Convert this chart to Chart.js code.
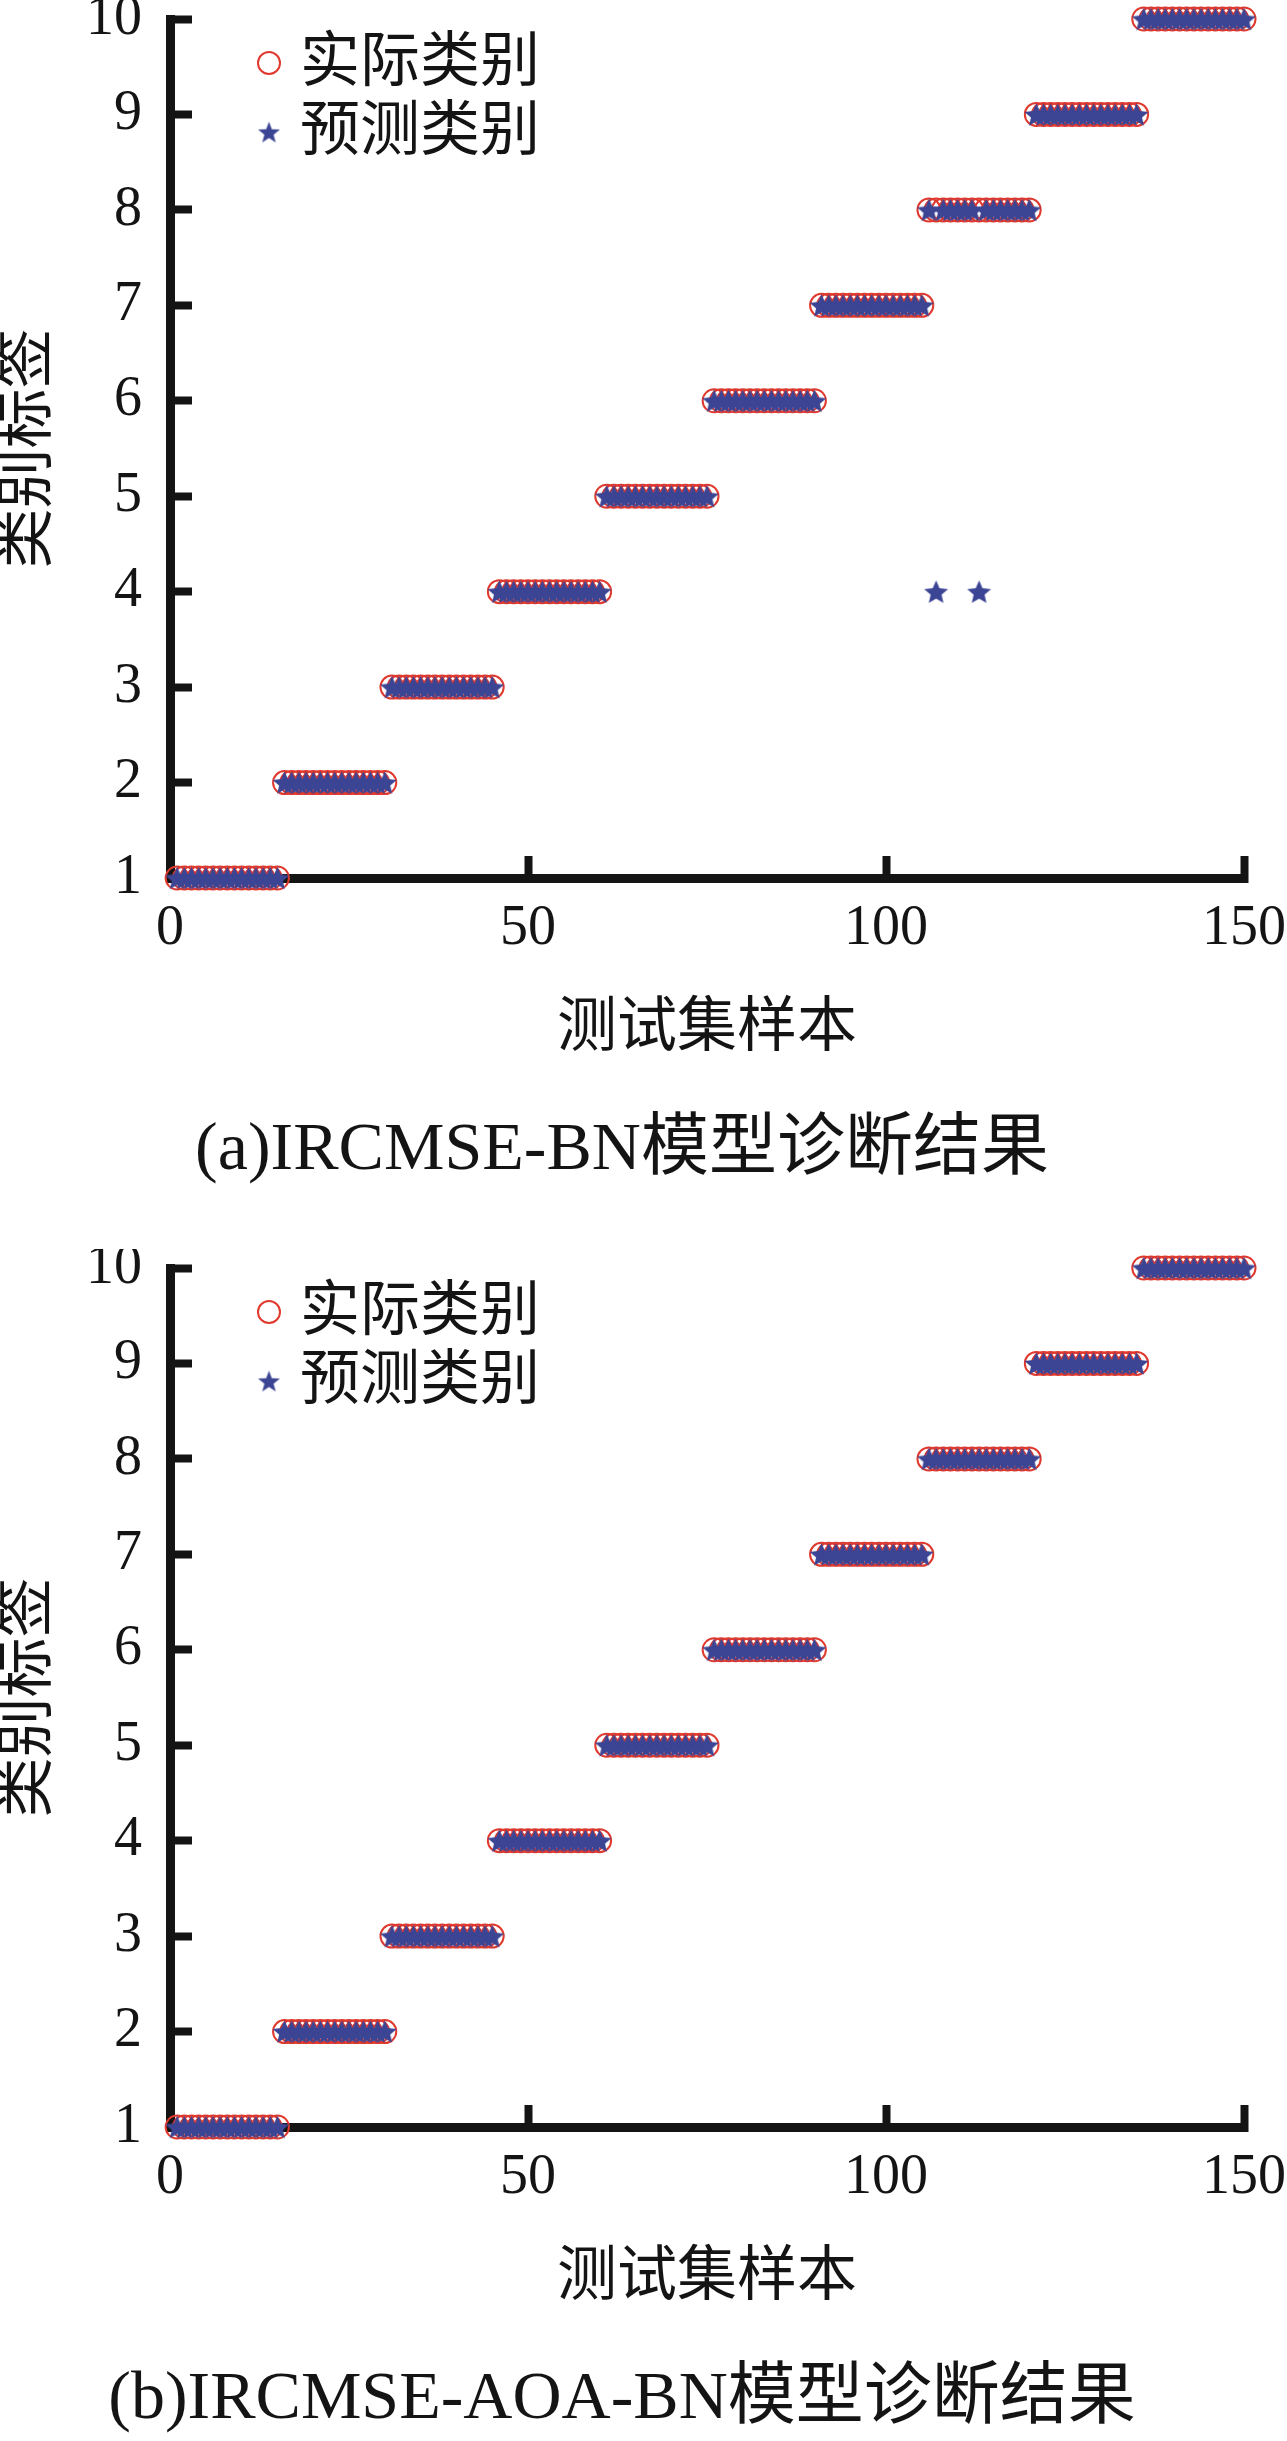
<!DOCTYPE html>
<html>
<head>
<meta charset="utf-8">
<script src="https://cdn.jsdelivr.net/npm/chart.js@4.4.0/dist/chart.umd.min.js"></script>
<style>
  html, body { margin: 0; padding: 0; background: #fff; overflow: hidden; }
  .box { width: 1287px; height: 1249px; }
  canvas { display: block; }
</style>
</head>
<body>
<div class="box"><canvas id="chartA" width="1287" height="1249"></canvas></div>
<div class="box"><canvas id="chartB" width="1287" height="1249"></canvas></div>
<script>
// tick labels
const xTicks = [0, 50, 100, 150];
const yTicks = [1, 2, 3, 4, 5, 6, 7, 8, 9, 10];

const seriesNames = ['实际类别', '预测类别'];
const xTitle = '测试集样本';
const yTitle = '类别标签';
const captions = ['(a)IRCMSE-BN模型诊断结果', '(b)IRCMSE-AOA-BN模型诊断结果'];

// class of each test sample (sample 1..150)
const actual = [
  1, 1, 1, 1, 1, 1, 1, 1, 1, 1, 1, 1, 1, 1, 1,
  2, 2, 2, 2, 2, 2, 2, 2, 2, 2, 2, 2, 2, 2, 2,
  3, 3, 3, 3, 3, 3, 3, 3, 3, 3, 3, 3, 3, 3, 3,
  4, 4, 4, 4, 4, 4, 4, 4, 4, 4, 4, 4, 4, 4, 4,
  5, 5, 5, 5, 5, 5, 5, 5, 5, 5, 5, 5, 5, 5, 5,
  6, 6, 6, 6, 6, 6, 6, 6, 6, 6, 6, 6, 6, 6, 6,
  7, 7, 7, 7, 7, 7, 7, 7, 7, 7, 7, 7, 7, 7, 7,
  8, 8, 8, 8, 8, 8, 8, 8, 8, 8, 8, 8, 8, 8, 8,
  9, 9, 9, 9, 9, 9, 9, 9, 9, 9, 9, 9, 9, 9, 9,
  10, 10, 10, 10, 10, 10, 10, 10, 10, 10, 10, 10, 10, 10, 10
];

// (a) IRCMSE-BN: samples 107 and 113 misclassified as 4
const predictedA = [
  1, 1, 1, 1, 1, 1, 1, 1, 1, 1, 1, 1, 1, 1, 1,
  2, 2, 2, 2, 2, 2, 2, 2, 2, 2, 2, 2, 2, 2, 2,
  3, 3, 3, 3, 3, 3, 3, 3, 3, 3, 3, 3, 3, 3, 3,
  4, 4, 4, 4, 4, 4, 4, 4, 4, 4, 4, 4, 4, 4, 4,
  5, 5, 5, 5, 5, 5, 5, 5, 5, 5, 5, 5, 5, 5, 5,
  6, 6, 6, 6, 6, 6, 6, 6, 6, 6, 6, 6, 6, 6, 6,
  7, 7, 7, 7, 7, 7, 7, 7, 7, 7, 7, 7, 7, 7, 7,
  8, 4, 8, 8, 8, 8, 8, 4, 8, 8, 8, 8, 8, 8, 8,
  9, 9, 9, 9, 9, 9, 9, 9, 9, 9, 9, 9, 9, 9, 9,
  10, 10, 10, 10, 10, 10, 10, 10, 10, 10, 10, 10, 10, 10, 10
];

// (b) IRCMSE-AOA-BN: all correct
const predictedB = [
  1, 1, 1, 1, 1, 1, 1, 1, 1, 1, 1, 1, 1, 1, 1,
  2, 2, 2, 2, 2, 2, 2, 2, 2, 2, 2, 2, 2, 2, 2,
  3, 3, 3, 3, 3, 3, 3, 3, 3, 3, 3, 3, 3, 3, 3,
  4, 4, 4, 4, 4, 4, 4, 4, 4, 4, 4, 4, 4, 4, 4,
  5, 5, 5, 5, 5, 5, 5, 5, 5, 5, 5, 5, 5, 5, 5,
  6, 6, 6, 6, 6, 6, 6, 6, 6, 6, 6, 6, 6, 6, 6,
  7, 7, 7, 7, 7, 7, 7, 7, 7, 7, 7, 7, 7, 7, 7,
  8, 8, 8, 8, 8, 8, 8, 8, 8, 8, 8, 8, 8, 8, 8,
  9, 9, 9, 9, 9, 9, 9, 9, 9, 9, 9, 9, 9, 9, 9,
  10, 10, 10, 10, 10, 10, 10, 10, 10, 10, 10, 10, 10, 10, 10
];

const FONT = '"Liberation Serif", "Noto Sans CJK SC", serif';
const INK = '#141414';
const RED = '#e0392e';
const BLUE = '#3c4594';

// filled five-point star used as the point style
function makeStar(r, inner) {
  const c = document.createElement('canvas');
  c.width = c.height = Math.ceil(r * 2 + 2);
  const g = c.getContext('2d');
  const cx = c.width / 2, cy = c.height / 2 + r * 0.1;
  g.beginPath();
  for (let k = 0; k < 10; k++) {
    const rad = k % 2 === 0 ? r : r * inner;
    const a = -Math.PI / 2 + k * Math.PI / 5;
    g.lineTo(cx + rad * Math.cos(a), cy + rad * Math.sin(a));
  }
  g.closePath();
  g.fillStyle = BLUE;
  g.fill();
  return c;
}
const starImg = makeStar(12.5, 0.46);
const legendStar = makeStar(11.5, 0.42);

// legend drawn inside the plot, top-left
const insideLegend = {
  id: 'insideLegend',
  afterDatasetsDraw(chart) {
    const { ctx, chartArea } = chart;
    ctx.save();
    ctx.font = '60px ' + FONT;
    ctx.fillStyle = INK;
    ctx.textBaseline = 'middle';
    ctx.textAlign = 'left';
    chart.data.datasets.forEach((ds, i) => {
      const cx = chartArea.left + 99;
      const cy = chartArea.top + 44 + i * 69;
      if (ds.pointStyle === 'circle') {
        ctx.beginPath();
        ctx.arc(cx, cy, 11, 0, Math.PI * 2);
        ctx.lineWidth = ds.borderWidth;
        ctx.strokeStyle = ds.borderColor;
        ctx.stroke();
      } else {
        ctx.drawImage(legendStar, cx - legendStar.width / 2, cy - legendStar.height / 2);
      }
      ctx.fillText(ds.label, chartArea.left + 130, cy + 2);
    });
    ctx.restore();
  }
};

function toPoints(arr) {
  return arr.map((v, i) => ({ x: i + 1, y: v }));
}

function makeChart(id, predicted, caption) {
  const axisCommon = {
    type: 'linear',
    border: { display: true, width: 9, color: INK },
    grid: { drawOnChartArea: false, drawTicks: true, tickLength: -22, tickWidth: 8, tickColor: INK }
  };
  return new Chart(document.getElementById(id), {
    type: 'scatter',
    data: {
      datasets: [
        {
          label: seriesNames[0],
          data: toPoints(actual),
          pointStyle: 'circle',
          pointRadius: 11.5,
          borderWidth: 2,
          borderColor: RED,
          backgroundColor: 'rgba(255,255,255,0)',
          order: 1,
          clip: false
        },
        {
          label: seriesNames[1],
          data: toPoints(predicted),
          pointStyle: starImg,
          pointRadius: 12,
          borderColor: BLUE,
          backgroundColor: BLUE,
          order: 0,
          clip: false
        }
      ]
    },
    options: {
      responsive: false,
      animation: false,
      events: [],
      layout: { padding: { top: 19, right: 43, bottom: 0, left: 0 } },
      plugins: {
        legend: { display: false },
        tooltip: { enabled: false },
        title: {
          display: true,
          position: 'bottom',
          text: caption,
          color: INK,
          font: { family: FONT, size: 68, weight: 'normal', lineHeight: 1.2 },
          padding: { top: 0, bottom: 57.2 }
        }
      },
      scales: {
        x: Object.assign({}, axisCommon, {
          position: 'bottom',
          min: 0,
          max: 150,
          afterBuildTicks: s => { s.ticks = xTicks.map(v => ({ value: v })); },
          afterFit: s => { s.height = 232.2; s.paddingLeft = 0; s.paddingRight = 0; },
          ticks: { color: INK, font: { family: FONT, size: 56 }, padding: 40, maxRotation: 0, autoSkip: false },
          title: {
            display: true, text: xTitle, color: INK,
            font: { family: FONT, size: 60, lineHeight: 1.2 },
            padding: { top: 0, bottom: 44.2 }
          }
        }),
        y: Object.assign({}, axisCommon, {
          position: 'left',
          min: 1,
          max: 10,
          afterBuildTicks: s => { s.ticks = yTicks.map(v => ({ value: v })); },
          afterFit: s => { s.width = 170; s.paddingTop = 0; s.paddingBottom = 0; },
          ticks: { color: INK, font: { family: FONT, size: 56 }, padding: 50, autoSkip: false },
          title: {
            display: true, text: yTitle, color: INK,
            font: { family: FONT, size: 60, lineHeight: 1 },
            padding: { top: 0, bottom: 0 }
          }
        })
      }
    },
    plugins: [insideLegend]
  });
}

makeChart('chartA', predictedA, captions[0]);
makeChart('chartB', predictedB, captions[1]);
</script>
</body>
</html>
